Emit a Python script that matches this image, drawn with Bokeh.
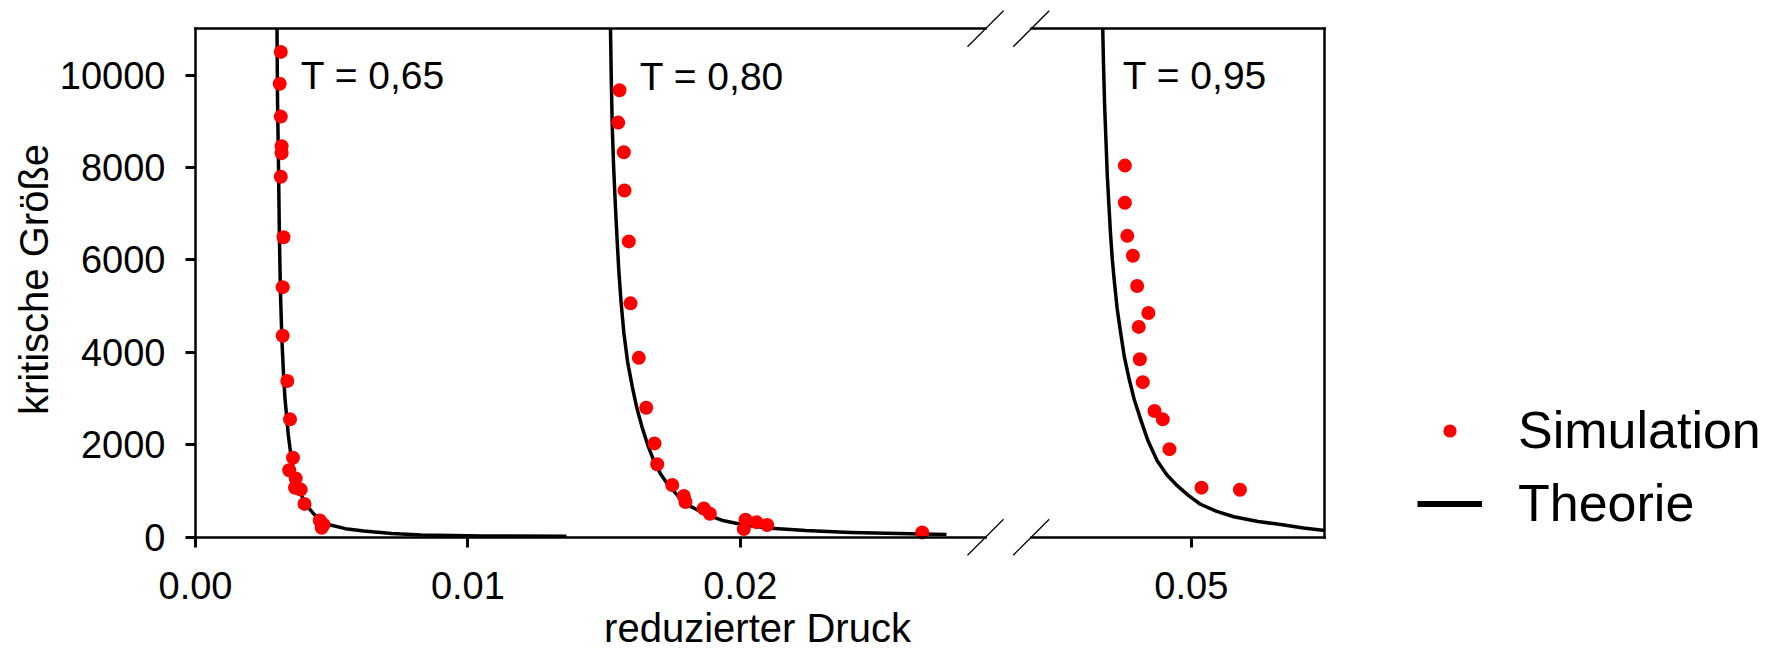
import math
from bokeh.plotting import figure
from bokeh.models import (Range1d, FixedTicker, PrintfTickFormatter, LinearAxis, Label,
                          Legend, LegendItem)
from bokeh.layouts import row
from bokeh.embed import file_html
from bokeh.resources import INLINE

# ---------------- data ----------------
sim065_x = [0.003131, 0.003091, 0.003131, 0.003161, 0.003161, 0.003131, 0.003230, 0.003201,
            0.003201, 0.003370, 0.003469, 0.003579, 0.003440, 0.003678, 0.003653, 0.003862,
            0.004001, 0.004563, 0.004702, 0.004633]
sim065_y = [10500, 9810, 9100, 8460, 8310, 7800, 6490, 5410, 4360, 3380, 2550, 1720, 1450,
            1270, 1070, 1030, 720, 360, 270, 205]
theo065_x = [0.002992, 0.003010, 0.003047, 0.003080, 0.003117, 0.003170, 0.003230, 0.003285,
             0.003341, 0.003400, 0.003469, 0.003555, 0.003653, 0.003780, 0.003932, 0.004130,
             0.004354, 0.004620, 0.004915, 0.005500, 0.006178, 0.007200, 0.008285, 0.010500,
             0.013619]
theo065_y = [11000, 9500, 8016, 6500, 5329, 4300, 3538, 3000, 2643, 2250, 1926, 1580, 1299,
             1050, 851, 650, 493, 370, 270, 185, 134, 80, 45, 28, 19]

sim080_x = [0.015565, 0.015517, 0.015723, 0.015748, 0.015906, 0.015969, 0.016273, 0.016545,
            0.016850, 0.016949, 0.017500, 0.017925, 0.017988, 0.018660, 0.018880, 0.020190,
            0.020128, 0.020594, 0.020987, 0.026677]
sim080_y = [9670, 8970, 8330, 7500, 6400, 5060, 3880, 2800, 2030, 1580, 1130, 890, 760, 620,
            506, 380, 175, 326, 264, 104]
theo080_x = [0.015234, 0.015260, 0.015297, 0.015350, 0.015418, 0.015480, 0.015539, 0.015620,
             0.015723, 0.015860, 0.016031, 0.016200, 0.016398, 0.016600, 0.016824, 0.017060,
             0.017316, 0.017700, 0.018171, 0.018750, 0.019394, 0.020150, 0.020987, 0.022400,
             0.024045, 0.025800, 0.027569]
theo080_y = [11000, 10000, 8910, 8000, 7118, 6400, 5774, 5100, 4430, 3800, 3265, 2800, 2371,
             2000, 1653, 1380, 1160, 900, 668, 490, 354, 265, 201, 145, 104, 78, 58]

sim095_x = [0.04751, 0.04751, 0.04760, 0.04781, 0.04797, 0.04839, 0.04803, 0.04807, 0.04818,
            0.04862, 0.04893, 0.04918, 0.05038, 0.05182]
sim095_y = [8040, 7235, 6520, 6090, 5435, 4850, 4550, 3850, 3355, 2730, 2550, 1905, 1072, 1026]
theo095_x = [0.04668, 0.04671, 0.04675, 0.04680, 0.04685, 0.04691, 0.04697, 0.04704, 0.04712,
             0.04722, 0.04735, 0.04749, 0.04766, 0.04786, 0.04810, 0.04838, 0.04872, 0.04908,
             0.04947, 0.04990, 0.05034, 0.05095, 0.05159, 0.05250, 0.05347, 0.05420, 0.05500]
theo095_y = [11000, 10200, 9359, 8600, 7836, 7200, 6580, 6000, 5506, 4950, 4430, 3900, 3445,
             2980, 2550, 2080, 1653, 1350, 1115, 900, 713, 560, 443, 340, 264, 200, 147]

y_ticks = [0, 2000, 4000, 6000, 8000, 10000]
x_ticks_left = [0.00, 0.01, 0.02]
x_ticks_right = [0.05]
x_seg_left = (0.0, 0.029)
x_seg_right = (0.044, 0.055)
y_seg = (0, 11000)

x_title = "reduzierter Druck"
y_title = "kritische Größe"
curve_labels = ["T = 0,65", "T = 0,80", "T = 0,95"]
legend_labels = ["Simulation", "Theorie"]

# ---------------- layout (pixels on the page) ----------------
FONT = "Liberation Sans"
RED = "#ff0000"
AXW = 2.5
H = 650
W1, W2 = 1008, 773             # two panels side by side
PX_L0, PX_L1 = 195.0, 985.0    # page x of left segment start / end
PX_R0, PX_R1 = 1030.7, 1324.3  # page x of right segment start / end
PY_TOP, PY_BOT = 28.3, 536.7   # page y of 11000 / 0
BRK = 18                       # half size of break marks (px)
TXT_SHIFT = 12                 # baseline correction of label text (px)

sx1 = (PX_L1 - PX_L0) / (x_seg_left[1] - x_seg_left[0])
sx2 = (PX_R1 - PX_R0) / (x_seg_right[1] - x_seg_right[0])
sy = (PY_BOT - PY_TOP) / (y_seg[1] - y_seg[0])

xr1 = (x_seg_left[0] - PX_L0 / sx1, x_seg_left[0] + (W1 - PX_L0) / sx1)
xr2 = (x_seg_right[0] - (PX_R0 - W1) / sx2, x_seg_right[1] + (W1 + W2 - PX_R1) / sx2)
yr = (y_seg[0] - (H - PY_BOT) / sy, y_seg[1] + PY_TOP / sy)


def px_to_x1(px):
    return x_seg_left[0] + (px - PX_L0) / sx1


def px_to_x2(px):
    return x_seg_right[0] + (px - PX_R0) / sx2


def py_to_y(py):
    return y_seg[0] + (PY_BOT - py) / sy


def style_axis(ax):
    ax.axis_line_width = AXW
    ax.axis_line_color = "black"
    ax.axis_line_cap = "square"
    ax.major_tick_line_width = 3
    ax.major_tick_line_color = "black"
    ax.major_tick_out = 10
    ax.major_tick_in = 0
    ax.minor_tick_out = 0
    ax.minor_tick_in = 0
    ax.major_label_text_font = FONT
    ax.major_label_text_font_size = "38px"
    ax.major_label_text_color = "black"


def line_axis(loc, bounds):
    return LinearAxis(ticker=FixedTicker(ticks=[]), major_label_text_font_size="0px",
                      axis_line_width=AXW, axis_line_color="black", axis_line_cap="square",
                      major_tick_out=0, major_tick_in=0, minor_tick_out=0, minor_tick_in=0,
                      fixed_location=loc, bounds=bounds)


def base_fig(width, xr):
    p = figure(width=width, height=H, x_range=Range1d(*xr), y_range=Range1d(*yr),
               output_backend="svg", toolbar_location=None,
               min_border_left=0, min_border_right=0, min_border_top=0, min_border_bottom=0,
               x_axis_location=None, y_axis_location=None)
    p.xgrid.visible = False
    p.ygrid.visible = False
    p.outline_line_color = None
    p.background_fill_color = "white"
    p.border_fill_color = "white"
    return p


def bottom_axis(ticks, bounds):
    ax = LinearAxis(ticker=FixedTicker(ticks=ticks), formatter=PrintfTickFormatter(format="%.2f"),
                    fixed_location=y_seg[0], bounds=bounds)
    style_axis(ax)
    ax.major_label_standoff = 25
    return ax


def break_marks(p, xc, sxs):
    dx, dy = BRK / sxs, BRK / sy
    xs0, ys0, xs1, ys1 = [], [], [], []
    for yc in y_seg:
        xs0.append(xc - dx); ys0.append(yc - dy)
        xs1.append(xc + dx); ys1.append(yc + dy)
    p.segment(xs0, ys0, xs1, ys1, line_width=1.3, line_color="black")


def text(p, x, y, s, size, **kw):
    p.add_layout(Label(x=x, y=y, text=s, text_font=FONT, text_font_size=size,
                       text_baseline="alphabetic", text_color="black", **kw))


# ---------------- left panel ----------------
p1 = base_fig(W1, xr1)
p1.add_layout(bottom_axis(x_ticks_left, x_seg_left), "below")
p1.add_layout(line_axis(y_seg[1], x_seg_left), "above")
ya1 = LinearAxis(ticker=FixedTicker(ticks=y_ticks), fixed_location=x_seg_left[0], bounds=y_seg)
style_axis(ya1)
ya1.major_label_standoff = 20
p1.add_layout(ya1, "left")

for xs, ys in ((theo065_x, theo065_y), (theo080_x, theo080_y)):
    p1.line(xs, ys, line_width=3.5, line_color="black", line_join="round")
for xs, ys in ((sim065_x, sim065_y), (sim080_x, sim080_y)):
    p1.scatter(xs, ys, size=14, fill_color=RED, line_color=None)
break_marks(p1, x_seg_left[1], sx1)

text(p1, px_to_x1(300.2), py_to_y(87 - TXT_SHIFT), curve_labels[0], "39px")
text(p1, px_to_x1(639.3), py_to_y(88 - TXT_SHIFT), curve_labels[1], "39px")
text(p1, px_to_x1(757), py_to_y(639 - TXT_SHIFT), x_title, "40px", text_align="center")
text(p1, px_to_x1(45.5 - TXT_SHIFT), py_to_y(279), y_title, "40px", text_align="center",
     angle=math.pi / 2)

# ---------------- right panel ----------------
p2 = base_fig(W2, xr2)
p2.add_layout(bottom_axis(x_ticks_right, x_seg_right), "below")
p2.add_layout(line_axis(y_seg[1], x_seg_right), "above")
p2.add_layout(line_axis(x_seg_right[1], y_seg), "right")

p2.line(theo095_x, theo095_y, line_width=3.5, line_color="black", line_join="round")
sim_r = p2.scatter(sim095_x, sim095_y, size=14, fill_color=RED, line_color=None)
theo_proxy = p2.line(x=[float("nan")], y=[float("nan")], line_width=6, line_color="black")
break_marks(p2, x_seg_right[0], sx2)

text(p2, px_to_x2(1122.3), py_to_y(87 - TXT_SHIFT), curve_labels[2], "39px")

legend = Legend(items=[LegendItem(label=legend_labels[0], renderers=[sim_r]),
                       LegendItem(label=legend_labels[1], renderers=[theo_proxy])],
                location=(1417 - W1, H - 539.5), orientation="vertical", padding=0, margin=0,
                spacing=0, glyph_width=65, glyph_height=33, label_height=73, label_standoff=36,
                border_line_color=None, background_fill_alpha=0,
                label_text_font=FONT, label_text_font_size="52px", label_text_color="black")
p2.add_layout(legend)

layout = row(p1, p2, spacing=0)
open("out.html", "w").write(file_html(layout, INLINE))
